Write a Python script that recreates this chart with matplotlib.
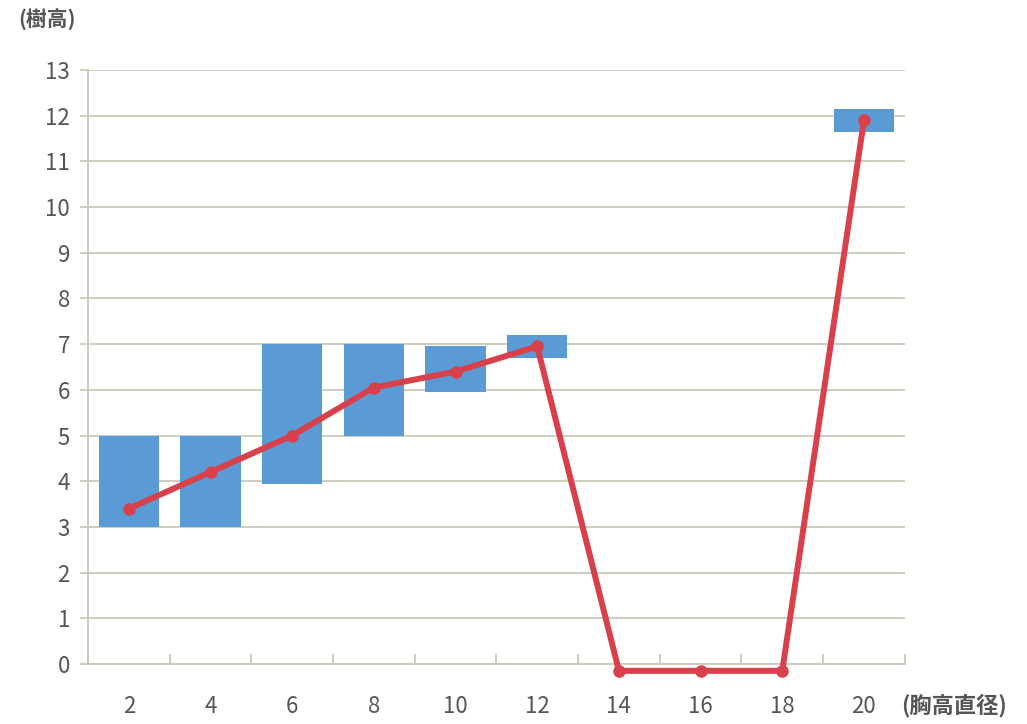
import numpy as np
import matplotlib.pyplot as plt

plt.rcParams['font.family'] = ['Noto Sans CJK JP', 'DejaVu Sans']

# 胸高直径クラスごとの樹高の範囲（棒）と平均（折れ線）
dbh = ["2", "4", "6", "8", "10", "12", "14", "16", "18", "20"]
h_low = [3.0, 3.0, 3.95, 5.0, 5.95, 6.7, np.nan, np.nan, np.nan, 11.65]
h_high = [5.0, 5.0, 7.0, 7.0, 6.95, 7.2, np.nan, np.nan, np.nan, 12.15]
h_mean = [3.4, 4.2, 5.0, 6.05, 6.4, 6.95, -0.15, -0.15, -0.15, 11.9]

grid_col = "#c9c9bb"
text_col = "#555555"

fig = plt.figure(figsize=(10.27, 7.24), dpi=100)
ax = fig.add_axes([0.0857, 0.0829, 0.7953, 0.8204])

x = np.arange(len(dbh))
low = np.array(h_low)
high = np.array(h_high)
ax.bar(x, high - low, bottom=low, width=0.74, color="#5b9bd5", zorder=2)
ax.plot(x, h_mean, color="#d8414c", lw=4.3, marker="o", ms=8,
        zorder=3, clip_on=False)

ax.set_xlim(-0.5, len(dbh) - 0.5)
ax.set_ylim(0, 13)
ax.set_yticks(range(0, 14))
ax.set_xticks(x)
ax.set_xticklabels(dbh)
ax.set_xticks(np.arange(-0.5, len(dbh)), minor=True)

ax.grid(axis="y", color=grid_col, lw=1.3, zorder=0)
for s in ["top", "right"]:
    ax.spines[s].set_visible(False)
for s in ["left", "bottom"]:
    ax.spines[s].set_color(grid_col)
    ax.spines[s].set_linewidth(1.3)

ax.tick_params(axis="y", length=6, width=1.3, color=grid_col, pad=7,
               labelsize=16, labelcolor=text_col)
ax.tick_params(axis="x", which="major", length=0, pad=22,
               labelsize=16, labelcolor=text_col)
ax.tick_params(axis="x", which="minor", direction="in", length=7,
               width=1.3, color=grid_col)

fig.text(0.018, 0.974, "(樹高)", fontsize=15, color=text_col, fontweight="bold",
         va="center", ha="left")
fig.text(0.877, 0.025, "(胸高直径)", fontsize=16, color=text_col, fontweight="bold",
         va="center", ha="left")

fig.savefig("out.png", dpi=100)
